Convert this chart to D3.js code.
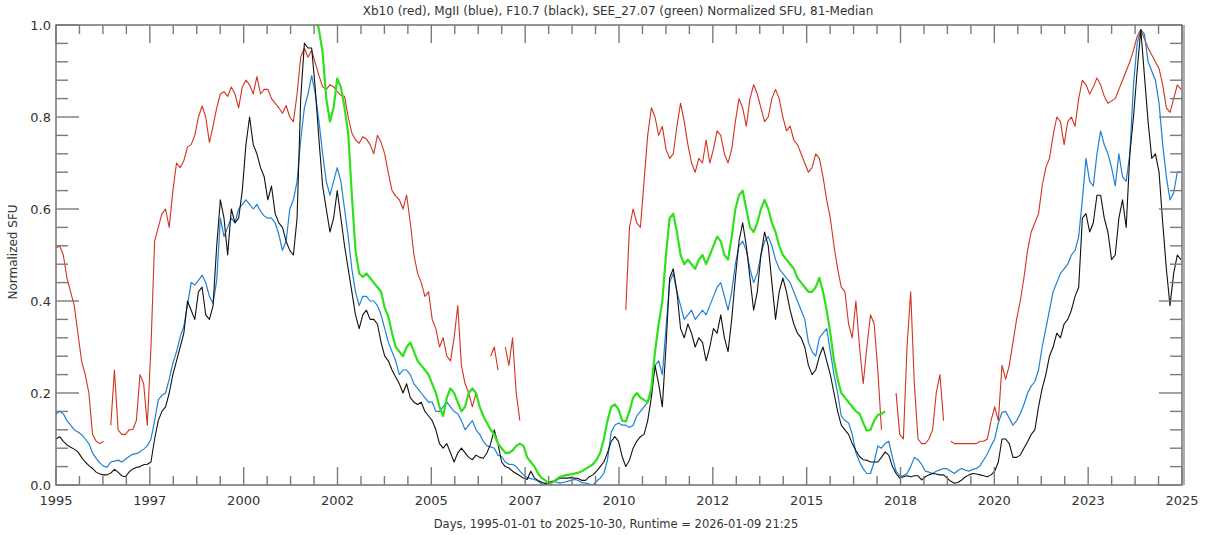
<!DOCTYPE html>
<html>
<head>
<meta charset="utf-8">
<script src="https://cdn.jsdelivr.net/npm/d3@7"></script>
<style>
  body { margin: 0; background: #fff; }
  text { font-family: "DejaVu Sans", sans-serif; fill: #333; }
</style>
</head>
<body>
<svg id="chart" width="1209" height="535"></svg>
<script>
// Daily series reduced to samples every 0.1 year, starting 1995.0 (index 0).
const START_YEAR = 1995;
const STEP_YEARS = 0.1;
const END_YEAR = 1995 + 11260 / 365.25;   // 2025-10-30

// Xb10 (red), null where no data
const xb10 = [
  0.515,0.52,0.50,0.45,0.42,0.39,0.33,0.27,0.24,0.20,
  0.11,0.095,0.09,0.095,null,0.13,0.25,0.12,0.11,0.11,
  0.12,0.12,0.14,0.24,0.22,0.13,0.30,0.53,0.56,0.59,
  0.60,0.56,0.64,0.70,0.69,0.705,0.735,0.74,0.76,0.80,
  0.824,0.80,0.745,0.78,0.82,0.85,0.855,0.845,0.865,0.85,
  0.82,0.865,0.88,0.87,0.85,0.888,0.85,0.86,0.86,0.84,
  0.83,0.82,0.808,0.825,0.80,0.79,0.85,0.93,0.95,0.93,
  0.945,0.917,0.89,0.866,0.86,0.87,0.866,0.855,0.847,0.845,
  0.80,0.765,0.75,0.743,0.757,0.752,0.74,0.72,0.76,0.745,
  0.72,0.678,0.64,0.628,0.62,0.60,0.63,0.57,0.50,0.46,
  0.44,0.41,0.42,0.36,0.34,0.30,0.32,0.28,0.27,0.32,
  0.39,0.26,0.22,0.20,0.17,0.20,null,null,null,0.28,
  0.30,0.25,null,0.30,0.26,0.32,0.20,0.14,null,null,
  null,null,null,null,null,null,null,null,null,null,
  null,null,null,null,null,null,null,null,null,null,
  null,null,null,null,null,null,0.38,0.56,0.60,0.57,
  0.56,0.66,0.76,0.82,0.80,0.76,0.78,0.73,0.71,0.72,
  0.78,0.83,0.79,0.74,0.70,0.68,0.71,0.70,0.75,0.70,
  0.73,0.77,0.76,0.72,0.70,0.73,0.79,0.84,0.82,0.78,
  0.84,0.87,0.85,0.82,0.79,0.80,0.84,0.86,0.84,0.80,
  0.77,0.78,0.75,0.74,0.72,0.70,0.68,0.69,0.72,0.71,
  0.67,0.62,0.58,0.52,0.47,0.43,0.42,0.35,0.32,0.40,
  0.30,0.22,0.30,0.37,0.35,0.25,0.12,null,null,null,
  0.20,0.11,0.10,0.30,0.42,0.22,0.10,0.09,0.09,0.10,
  0.12,0.20,0.24,0.14,null,0.095,0.09,0.09,0.09,0.09,
  0.09,0.09,0.09,0.095,0.095,0.10,0.14,0.17,0.14,0.26,
  0.23,0.26,0.31,0.36,0.40,0.45,0.51,0.55,0.57,0.59,
  0.65,0.69,0.71,0.76,0.80,0.79,0.74,0.79,0.80,0.78,
  0.84,0.88,0.87,0.85,0.865,0.885,0.87,0.845,0.83,0.835,
  0.84,0.86,0.88,0.90,0.92,0.945,0.975,0.99,0.97,0.95,
  0.935,0.92,0.905,0.87,0.82,0.81,0.84,0.87,0.86
];

// MgII (blue)
const mg2 = [
  0.155,0.16,0.155,0.14,0.13,0.12,0.115,0.11,0.10,0.09,
  0.07,0.058,0.048,0.041,0.039,0.05,0.052,0.054,0.05,0.056,
  0.062,0.067,0.068,0.072,0.078,0.085,0.10,0.14,0.185,0.195,
  0.20,0.23,0.265,0.29,0.322,0.345,0.39,0.44,0.435,0.445,
  0.456,0.44,0.41,0.395,0.445,0.58,0.54,0.56,0.58,0.57,
  0.60,0.61,0.62,0.61,0.60,0.61,0.595,0.585,0.58,0.58,
  0.57,0.545,0.51,0.53,0.60,0.62,0.66,0.75,0.82,0.85,
  0.89,0.85,0.79,0.72,0.66,0.63,0.66,0.69,0.66,0.60,
  0.54,0.47,0.42,0.39,0.41,0.41,0.40,0.40,0.39,0.37,
  0.34,0.31,0.29,0.27,0.24,0.25,0.25,0.24,0.22,0.21,
  0.20,0.19,0.18,0.18,0.16,0.16,0.17,0.18,0.17,0.16,
  0.155,0.14,0.12,0.13,0.14,0.12,0.11,0.095,0.085,0.083,
  0.08,0.065,0.062,0.05,0.045,0.045,0.04,0.03,0.022,0.016,
  0.014,0.012,0.008,0.002,0.0,0.004,0.008,0.006,0.004,0.006,
  0.008,0.01,0.012,0.01,0.005,0.004,0.002,0.0,0.008,0.015,
  0.025,0.055,0.115,0.13,0.135,0.13,0.13,0.125,0.13,0.15,
  0.16,0.17,0.18,0.20,0.26,0.27,0.24,0.34,0.44,0.46,
  0.42,0.39,0.36,0.37,0.38,0.36,0.37,0.38,0.37,0.39,
  0.41,0.43,0.44,0.41,0.38,0.42,0.48,0.52,0.53,0.51,
  0.47,0.44,0.46,0.50,0.53,0.54,0.52,0.49,0.47,0.46,
  0.45,0.44,0.42,0.40,0.38,0.36,0.31,0.29,0.28,0.32,
  0.33,0.34,0.29,0.24,0.20,0.15,0.14,0.135,0.11,0.07,
  0.05,0.035,0.025,0.025,0.05,0.085,0.08,0.09,0.095,0.06,
  0.03,0.02,0.02,0.025,0.04,0.06,0.055,0.045,0.03,0.028,
  0.025,0.03,0.033,0.036,0.035,0.03,0.025,0.032,0.036,0.032,
  0.03,0.034,0.036,0.042,0.055,0.068,0.085,0.10,0.135,0.158,
  0.16,0.145,0.13,0.14,0.155,0.175,0.20,0.215,0.225,0.25,
  0.30,0.34,0.38,0.42,0.44,0.46,0.47,0.48,0.50,0.51,
  0.54,0.62,0.71,0.66,0.65,0.72,0.77,0.74,0.72,0.69,
  0.65,0.72,0.67,0.66,0.72,0.87,0.96,0.99,0.98,0.92,
  0.90,0.88,0.83,0.74,0.67,0.62,0.635,0.68,0.68
];

// F10.7 (black)
const f107 = [
  0.10,0.105,0.095,0.087,0.082,0.078,0.072,0.06,0.05,0.042,
  0.036,0.028,0.024,0.022,0.022,0.026,0.034,0.028,0.02,0.018,
  0.028,0.035,0.038,0.04,0.044,0.045,0.05,0.10,0.14,0.16,
  0.17,0.20,0.24,0.27,0.30,0.33,0.40,0.38,0.36,0.42,
  0.43,0.37,0.36,0.39,0.52,0.62,0.58,0.50,0.60,0.57,
  0.58,0.64,0.74,0.80,0.74,0.72,0.69,0.67,0.62,0.65,
  0.59,0.57,0.56,0.53,0.51,0.50,0.58,0.84,0.96,0.95,
  0.95,0.86,0.75,0.65,0.60,0.55,0.58,0.64,0.58,0.52,
  0.47,0.42,0.37,0.34,0.37,0.38,0.36,0.36,0.35,0.31,
  0.28,0.27,0.25,0.235,0.22,0.20,0.22,0.19,0.18,0.175,
  0.18,0.16,0.15,0.14,0.12,0.09,0.08,0.09,0.07,0.05,
  0.07,0.08,0.07,0.06,0.055,0.065,0.06,0.058,0.07,0.09,
  0.12,0.09,0.05,0.04,0.037,0.03,0.025,0.02,0.015,0.012,
  0.03,0.015,0.01,0.006,0.003,0.006,0.008,0.01,0.015,0.015,
  0.015,0.016,0.015,0.014,0.01,0.01,0.018,0.022,0.03,0.04,
  0.05,0.07,0.095,0.105,0.095,0.062,0.04,0.054,0.08,0.095,
  0.105,0.11,0.14,0.19,0.26,0.22,0.17,0.30,0.45,0.47,
  0.42,0.34,0.32,0.35,0.33,0.30,0.32,0.31,0.27,0.30,
  0.34,0.33,0.37,0.32,0.29,0.36,0.45,0.53,0.57,0.52,
  0.45,0.38,0.42,0.50,0.55,0.52,0.44,0.36,0.42,0.45,
  0.42,0.38,0.35,0.33,0.32,0.30,0.26,0.24,0.25,0.28,
  0.30,0.27,0.24,0.20,0.16,0.13,0.12,0.11,0.09,0.075,
  0.062,0.055,0.054,0.05,0.05,0.05,0.06,0.072,0.065,0.04,
  0.025,0.015,0.018,0.02,0.018,0.02,0.02,0.011,0.018,0.022,
  0.025,0.024,0.022,0.022,0.015,0.008,0.004,0.006,0.011,0.018,
  0.022,0.025,0.024,0.022,0.02,0.018,0.022,0.03,0.05,0.10,
  0.10,0.09,0.06,0.06,0.065,0.08,0.094,0.11,0.12,0.17,
  0.21,0.24,0.28,0.30,0.33,0.32,0.35,0.36,0.38,0.41,
  0.43,0.58,0.59,0.55,0.57,0.63,0.63,0.58,0.55,0.49,
  0.50,0.58,0.62,0.56,0.72,0.80,0.90,0.99,0.89,0.79,
  0.71,0.72,0.68,0.57,0.47,0.39,0.46,0.50,0.49
];

// SEE 27.07 nm (green), begins 2002.1
const SEE_START_YEAR = 2002.1;
const see2707 = [
  1.02,0.99,0.94,0.84,0.79,0.82,0.884,0.865,0.82,
  0.765,0.63,0.51,0.46,0.452,0.46,0.45,0.44,0.43,0.42,
  0.385,0.366,0.33,0.30,0.29,0.28,0.30,0.31,0.29,0.27,
  0.26,0.25,0.24,0.22,0.20,0.17,0.15,0.19,0.21,0.20,
  0.18,0.16,0.17,0.20,0.21,0.20,0.17,0.15,0.135,0.12,
  0.11,0.09,0.08,0.07,0.07,0.075,0.085,0.09,0.085,0.06,
  0.05,0.04,0.025,0.015,0.01,0.002,0.006,0.012,0.018,0.02,
  0.022,0.023,0.025,0.027,0.03,0.035,0.04,0.045,0.055,0.07,
  0.10,0.14,0.17,0.175,0.165,0.14,0.138,0.16,0.19,0.20,
  0.19,0.185,0.18,0.21,0.29,0.35,0.40,0.50,0.58,0.59,
  0.55,0.50,0.48,0.49,0.48,0.47,0.49,0.50,0.48,0.50,
  0.52,0.54,0.53,0.50,0.49,0.54,0.60,0.63,0.64,0.60,
  0.56,0.55,0.57,0.60,0.62,0.60,0.57,0.55,0.52,0.50,
  0.49,0.48,0.47,0.45,0.44,0.43,0.42,0.42,0.43,0.45,
  0.42,0.38,0.33,0.27,0.23,0.20,0.19,0.18,0.17,0.16,
  0.155,0.135,0.118,0.12,0.14,0.152,0.155,0.16
];

const xTickLabels = ["1995","1997","2000","2002","2005","2007","2010","2012","2015","2018","2020","2023","2025"];
const yTickLabels = ["0.0","0.2","0.4","0.6","0.8","1.0"];

const titleText = "Xb10 (red), MgII (blue), F10.7 (black), SEE_27.07 (green) Normalized SFU, 81-Median";
const xTitle = "Days, 1995-01-01 to 2025-10-30, Runtime = 2026-01-09 21:25";
const yTitle = "Normalized SFU";

const W = 1209, H = 535;
const plot = { left: 56, right: 1182, top: 25, bottom: 485 };
const axisColor = "#7a7a7a";

const svg = d3.select("#chart");
svg.append("rect").attr("width", W).attr("height", H).attr("fill", "#fff");

const x = d3.scaleLinear().domain([START_YEAR, END_YEAR]).range([plot.left, plot.right]);
const y = d3.scaleLinear().domain([0, 1]).range([plot.bottom, plot.top]);

svg.append("defs").append("clipPath").attr("id", "plotClip")
  .append("rect")
  .attr("x", plot.left).attr("y", plot.top)
  .attr("width", plot.right - plot.left).attr("height", plot.bottom - plot.top);

function toPoints(values, start) {
  return values.map((v, i) => [start + i * STEP_YEARS, v]);
}

const line = d3.line()
  .defined(d => d[1] !== null)
  .x(d => x(d[0]))
  .y(d => y(d[1]));

const series = [
  { values: xb10, start: START_YEAR, color: "#d2331f", width: 1.1 },
  { values: mg2, start: START_YEAR, color: "#1f80d6", width: 1.2 },
  { values: f107, start: START_YEAR, color: "#111111", width: 1.1 },
  { values: see2707, start: SEE_START_YEAR, color: "#2fe01c", width: 2.2 }
];

const gLines = svg.append("g").attr("clip-path", "url(#plotClip)");
series.forEach(s => {
  gLines.append("path")
    .datum(toPoints(s.values, s.start))
    .attr("fill", "none")
    .attr("stroke", s.color)
    .attr("stroke-width", s.width)
    .attr("stroke-linejoin", "round")
    .attr("d", line);
});

// Axis frame
const gAxes = svg.append("g").attr("stroke", axisColor).attr("fill", "none");
gAxes.append("rect")
  .attr("x", plot.left).attr("y", plot.top)
  .attr("width", plot.right - plot.left).attr("height", plot.bottom - plot.top)
  .attr("stroke-width", 1.6);
gAxes.append("line")
  .attr("x1", plot.right + 2).attr("x2", plot.right + 2)
  .attr("y1", plot.top).attr("y2", plot.bottom)
  .attr("stroke-width", 1.2);

// X ticks: 12 equal intervals, 4 subdivisions each
const nMajor = xTickLabels.length - 1;
const xMajor = d3.range(nMajor + 1).map(i => START_YEAR + i * (END_YEAR - START_YEAR) / nMajor);
const xMinor = [];
for (let i = 0; i < nMajor; i++) for (let j = 1; j < 4; j++) xMinor.push(xMajor[i] + j * (xMajor[1] - xMajor[0]) / 4);

const X_MAJ = 18, X_MIN = 9, Y_MAJ = 23, Y_MIN = 12;
xMajor.forEach(v => {
  const px = x(v);
  gAxes.append("line").attr("x1", px).attr("x2", px).attr("y1", plot.bottom).attr("y2", plot.bottom - X_MAJ).attr("stroke-width", 1.4);
  gAxes.append("line").attr("x1", px).attr("x2", px).attr("y1", plot.top).attr("y2", plot.top + X_MAJ).attr("stroke-width", 1.4);
});
xMinor.forEach(v => {
  const px = x(v);
  gAxes.append("line").attr("x1", px).attr("x2", px).attr("y1", plot.bottom).attr("y2", plot.bottom - X_MIN).attr("stroke-width", 1.4);
  gAxes.append("line").attr("x1", px).attr("x2", px).attr("y1", plot.top).attr("y2", plot.top + X_MIN).attr("stroke-width", 1.4);
});

// Y ticks: majors every 0.2, minors every 0.04
const yMajor = yTickLabels.map(Number);
const yMinor = d3.range(0, 25).filter(i => i % 5 !== 0).map(i => i * 0.04);
yMajor.forEach(v => {
  const py = y(v);
  gAxes.append("line").attr("x1", plot.left).attr("x2", plot.left + Y_MAJ).attr("y1", py).attr("y2", py).attr("stroke-width", 1.4);
  gAxes.append("line").attr("x1", plot.right).attr("x2", plot.right - Y_MAJ).attr("y1", py).attr("y2", py).attr("stroke-width", 1.4);
});
yMinor.forEach(v => {
  const py = y(v);
  gAxes.append("line").attr("x1", plot.left).attr("x2", plot.left + Y_MIN).attr("y1", py).attr("y2", py).attr("stroke-width", 1.4);
  gAxes.append("line").attr("x1", plot.right).attr("x2", plot.right - Y_MIN).attr("y1", py).attr("y2", py).attr("stroke-width", 1.4);
});

// Labels
const gText = svg.append("g");
xMajor.forEach((v, i) => {
  gText.append("text").attr("x", x(v)).attr("y", 505)
    .attr("text-anchor", "middle").attr("font-size", 13).text(xTickLabels[i]);
});
yMajor.forEach((v, i) => {
  gText.append("text").attr("x", plot.left - 5).attr("y", y(v) + 5)
    .attr("text-anchor", "end").attr("font-size", 13).text(yTickLabels[i]);
});
gText.append("text").attr("x", 618).attr("y", 15)
  .attr("text-anchor", "middle").attr("font-size", 12).text(titleText);
gText.append("text").attr("x", 616).attr("y", 528)
  .attr("text-anchor", "middle").attr("font-size", 11.5).text(xTitle);
gText.append("text").attr("transform", "translate(17,252) rotate(-90)")
  .attr("text-anchor", "middle").attr("font-size", 12).text(yTitle);
</script>
</body>
</html>
